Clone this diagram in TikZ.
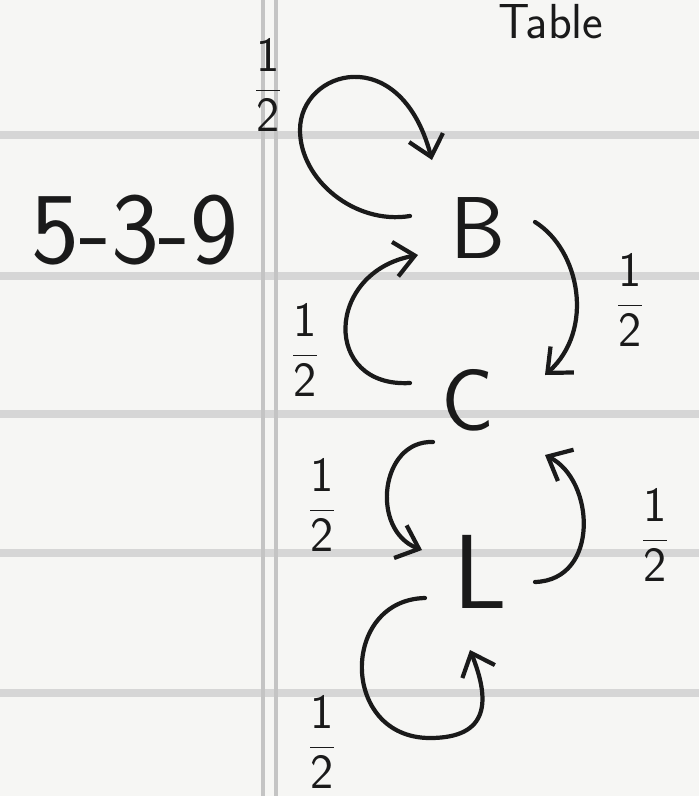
\documentclass[tikz,border=0pt]{standalone}
\usepackage{amsmath}
\usetikzlibrary{arrows.meta,calc}
\definecolor{PageInk}{HTML}{1A1A1A}
\definecolor{PageRule}{HTML}{D6D6D6}
\definecolor{PageMargin}{HTML}{C4C4C4}
\definecolor{PagePaper}{HTML}{F6F6F4}
\tikzset{
  every node/.style={font=\sffamily, text=PageInk},
  state/.style={font=\sffamily\fontsize{50}{52}\selectfont, inner sep=0pt},
  rate/.style={font=\sffamily\fontsize{28}{32}\selectfont, inner sep=0pt},
  hop/.style={-{Straight Barb[length=4mm,width=7mm]}, draw=PageInk, line width=2.4pt, line cap=round},
  ruled/.style={draw=PageRule, line width=5pt},
  margin/.style={draw=PageMargin, line width=2pt},
}
\newcommand{\halfrate}{$\dfrac{\textsf{1}}{\textsf{2}}$}

\begin{document}
\begin{tikzpicture}[x=0.02cm,y=-0.02cm]
  \useasboundingbox (0,0) rectangle (699,796);
  % Paper
  \fill[PagePaper] (0,0) rectangle (699,796);
  \foreach \y in {135,276,414,553,693}
    \draw[ruled] (0,\y) -- (699,\y);
  \draw[margin] (263,0) -- (263,796);
  \draw[margin] (276,0) -- (276,796);
  % Heading at the top edge
  \node[font=\sffamily\fontsize{28}{30}\selectfont, anchor=base west] (head) at (492,38) {Table};
  \node[font=\sffamily\fontsize{58}{60}\selectfont] (prob) at (135,230) {5-3-9};
  % States
  \node[state] (B) at (478,228) {B};
  \node[state] (C) at (468,400) {C};
  \node[state, font=\sffamily\fontsize{60}{62}\selectfont] (L) at (480,572) {L};
  % Transitions
  \draw[hop] ($(B)+(-68,-12)$) .. controls (355,225) and (300,180) .. (300,130)
    .. controls (300,70) and (400,40) .. ($(B)+(-46,-68)$);
  \draw[hop] ($(B)+(57,-6)$) .. controls (580,250) and (595,330) .. ($(C)+(77,-25)$);
  \draw[hop] ($(C)+(-58,-17)$) .. controls (322,388) and (325,272) .. ($(B)+(-60,27)$);
  \draw[hop] ($(C)+(-35,42)$) .. controls (380,440) and (370,530) .. ($(L)+(-58,-22)$);
  \draw[hop] ($(L)+(55,10)$) .. controls (600,580) and (595,480) .. ($(C)+(77,55)$);
  \draw[hop] ($(L)+(-55,26)$) .. controls (340,600) and (340,738) .. (430,738)
    .. controls (490,738) and (490,700) .. ($(L)+(-10,78)$);
  % Probabilities
  \node[rate] (pBB) at (268,85) {\halfrate};
  \node[rate] (pBC) at (630,300) {\halfrate};
  \node[rate] (pCB) at (305,350) {\halfrate};
  \node[rate] (pCL) at (322,505) {\halfrate};
  \node[rate] (pLC) at (655,535) {\halfrate};
  \node[rate] (pLL) at (322,742) {\halfrate};
\end{tikzpicture}
\end{document}
